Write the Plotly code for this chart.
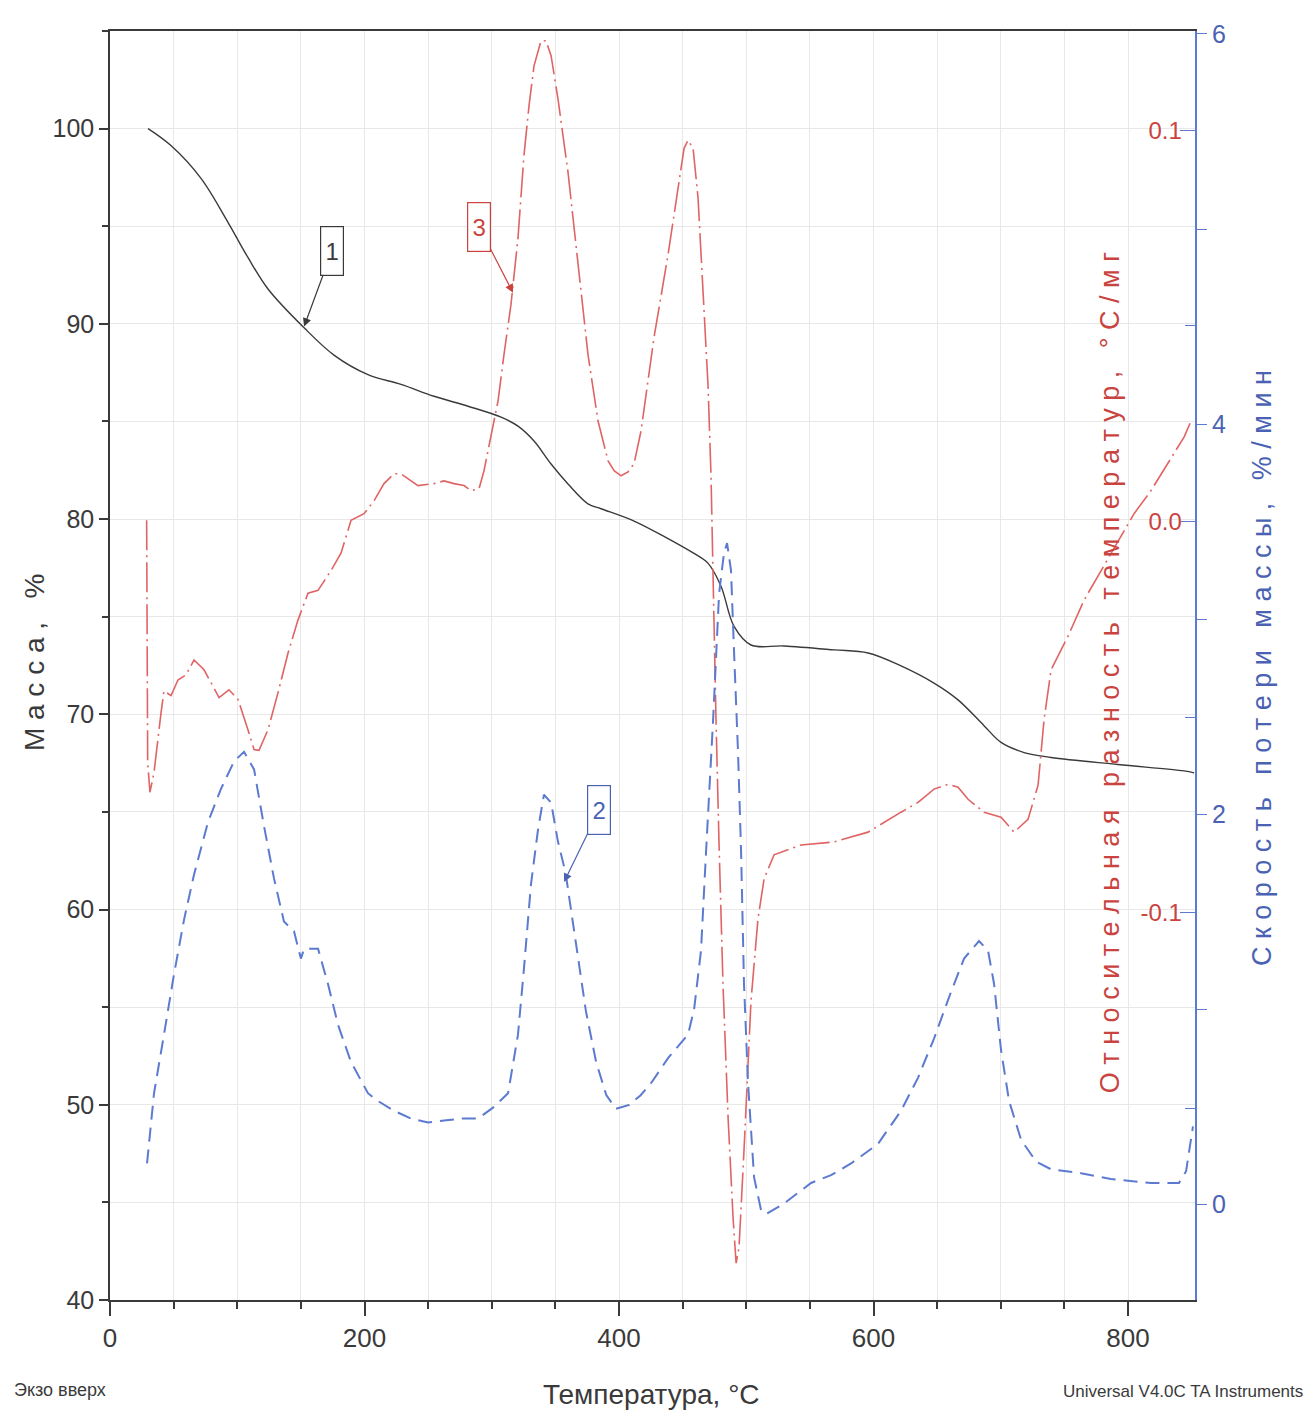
import plotly.graph_objects as go

# ---------------------------------------------------------------------
# Данные, снятые с термограммы (ТГ / ДТГ / ДТА)
# ---------------------------------------------------------------------
temp_mass = [29.9, 47.9, 71.5, 92.7, 108.4, 124.0, 152.5, 176.0, 202.7, 228.7,
             254.6, 281.3, 307.3, 320.6, 333.2, 346.6, 359.9, 375.6, 385.9, 411.8,
             438.5, 458.9, 470.0, 480.2, 490.4, 503.7, 529.7, 569.0, 595.7, 621.6,
             647.5, 666.4, 686.8, 700.2, 718.3, 739.5, 792.0, 844.0, 851.9]
mass = [100.0, 99.13, 97.45, 95.2, 93.4, 91.8, 89.8, 88.4, 87.4, 86.9,
        86.29, 85.78, 85.22, 84.76, 84.0, 82.82, 81.8, 80.78, 80.53, 79.9,
        79.0, 78.24, 77.73, 76.55, 74.5, 73.55, 73.5, 73.3, 73.14, 72.48,
        71.6, 70.74, 69.42, 68.56, 68.04, 67.79, 67.43, 67.1, 67.0]

temp_rate = [29.1, 34.6, 42.4, 50.3, 58.2, 66.0, 77.0, 87.2, 97.4, 105.3,
             113.2, 121.0, 128.9, 136.7, 144.6, 150.0, 152.5, 163.5, 171.3, 179.2,
             189.4, 202.7, 210.6, 223.2, 236.5, 249.9, 262.5, 275.8, 289.2, 301.8,
             312.8, 320.6, 325.3, 330.8, 336.3, 341.0, 346.6, 352.0, 358.0, 366.0,
             374.0, 382.0, 390.0, 397.6, 408.0, 417.0, 425.0, 438.5, 454.2, 459.0,
             464.4, 468.4, 473.9, 478.6, 482.5, 484.9, 488.0, 490.4, 493.5, 495.9,
             498.2, 501.4, 506.1, 511.6, 515.5, 529.7, 550.9, 566.6, 582.3, 603.5,
             621.6, 635.0, 647.5, 660.9, 671.1, 682.9, 690.0, 694.7, 700.2, 706.5,
             716.0, 727.7, 739.5, 763.0, 786.6, 818.0, 840.0, 845.6, 851.0]
rate = [0.21, 0.57, 0.87, 1.18, 1.46, 1.69, 1.96, 2.13, 2.27, 2.32,
        2.23, 1.94, 1.67, 1.45, 1.40, 1.26, 1.31, 1.31, 1.13, 0.92,
        0.73, 0.57, 0.53, 0.48, 0.44, 0.42, 0.43, 0.44, 0.44, 0.50,
        0.57, 0.87, 1.21, 1.64, 1.92, 2.10, 2.06, 1.86, 1.70, 1.35,
        0.99, 0.73, 0.56, 0.49, 0.51, 0.56, 0.62, 0.75, 0.87, 1.00,
        1.30, 1.81, 2.48, 3.13, 3.34, 3.39, 3.25, 2.83, 2.32, 1.81,
        1.13, 0.62, 0.14, -0.03, -0.05, 0.005, 0.11, 0.15, 0.21, 0.31,
        0.48, 0.65, 0.85, 1.09, 1.26, 1.35, 1.30, 1.13, 0.79, 0.53,
        0.33, 0.22, 0.18, 0.16, 0.13, 0.11, 0.11, 0.17, 0.40]

temp_dta = [28.8, 29.6, 31.4, 34.6, 40.1, 42.4, 48.0, 53.4, 59.7, 66.0,
            73.9, 79.4, 85.7, 93.5, 100.6, 108.4, 113.2, 117.1, 124.2, 132.0,
            139.9, 147.7, 155.6, 163.5, 173.7, 181.5, 189.4, 199.6, 207.5, 215.3,
            223.2, 228.7, 242.0, 254.6, 262.5, 270.3, 278.2, 283.7, 290.0, 293.9,
            299.4, 304.9, 309.6, 315.1, 320.6, 325.3, 329.3, 333.2, 338.7, 342.6,
            346.6, 352.0, 359.9, 367.8, 375.6, 383.5, 391.4, 396.1, 401.6, 407.1,
            411.8, 417.3, 427.5, 438.5, 446.4, 451.1, 454.2, 458.2, 462.1, 466.0,
            470.0, 472.3, 473.9, 476.2, 478.6, 481.7, 485.7, 489.6, 492.0, 494.3,
            498.2, 503.7, 509.2, 514.0, 521.8, 543.0, 569.0, 595.7, 621.6, 635.0,
            647.5, 658.5, 666.4, 674.3, 686.8, 700.2, 710.4, 721.4, 729.3, 734.0,
            739.5, 752.8, 765.4, 778.8, 792.1, 804.7, 818.0, 831.4, 844.0, 849.5]
dta = [0.0003, -0.0616, -0.0692, -0.0641, -0.0489, -0.0433, -0.0445, -0.0405, -0.0392, -0.0354,
       -0.0379, -0.0412, -0.0450, -0.0430, -0.0455, -0.0532, -0.0583, -0.0585, -0.0532, -0.0438,
       -0.0336, -0.0252, -0.0183, -0.0176, -0.0125, -0.0081, 0.0003, 0.0020, 0.0053, 0.0097,
       0.0122, 0.0122, 0.0092, 0.0097, 0.0104, 0.0097, 0.0092, 0.0079, 0.0084, 0.0130,
       0.0216, 0.0308, 0.0427, 0.0555, 0.0725, 0.0936, 0.1064, 0.1165, 0.1229, 0.1229,
       0.1191, 0.1081, 0.0893, 0.0656, 0.0427, 0.0257, 0.0155, 0.0130, 0.0117, 0.0127,
       0.0148, 0.0232, 0.0471, 0.0682, 0.0852, 0.0954, 0.0975, 0.0954, 0.0827, 0.0598,
       0.0344, 0.0115, -0.0165, -0.0506, -0.0827, -0.1183, -0.1524, -0.1779, -0.1896, -0.1855,
       -0.1608, -0.1226, -0.1015, -0.0913, -0.0852, -0.0827, -0.0819, -0.0794, -0.0743, -0.0718,
       -0.0684, -0.0672, -0.0679, -0.0710, -0.0743, -0.0756, -0.0794, -0.0761, -0.0674, -0.0506,
       -0.0379, -0.0293, -0.0201, -0.0125, -0.0048, 0.0020, 0.0079, 0.0148, 0.0216, 0.0257]

x_ticks = [0, 200, 400, 600, 800]
mass_ticks = [40, 50, 60, 70, 80, 90, 100]
dta_ticks = [-0.1, 0.0, 0.1]
dta_tick_text = ["-0.1", "0.0", "0.1"]
rate_ticks = [0, 2, 4, 6]

# ---------------------------------------------------------------------
# Оформление
# ---------------------------------------------------------------------
_NARROW = "Liberation Sans Narrow, Arial Narrow, Liberation Sans, sans-serif"
_SANS = "Liberation Sans, Arial, sans-serif"
_INK = "#3a3a3a"
_RED = "#e06464"
_RED_TXT = "#c9443f"
_BLUE = "#5c7ad0"
_BLUE_TXT = "#4a62b4"
_GRID = "#e8e8e8"

fig = go.Figure()

fig.add_trace(go.Scatter(
    x=temp_mass, y=mass, mode="lines", yaxis="y",
    line=dict(color=_INK, width=1.4), line_shape="spline", name="ТГ",
))
fig.add_trace(go.Scatter(
    x=temp_rate, y=rate, mode="lines", yaxis="y3",
    line=dict(color=_BLUE, width=2.0, dash="14px,8px"), name="ДТГ",
))
fig.add_trace(go.Scatter(
    x=temp_dta, y=dta, mode="lines", yaxis="y2",
    line=dict(color=_RED, width=1.6, dash="30px,5px,2px,5px"), name="ДТА",
))

# страница рисуется со сдвигом 8px (отступ body), поэтому l/t уменьшены на 8
fig.update_layout(
    width=1312, height=1423,
    paper_bgcolor="white", plot_bgcolor="white",
    showlegend=False,
    margin=dict(l=102, r=125, t=17, b=131),
    font=dict(family=_NARROW, color=_INK),
    xaxis=dict(
        range=[0, 852.6], tickvals=x_ticks,
        tickfont=dict(family=_NARROW, size=26, color=_INK),
        ticks="outside", ticklen=14, tickcolor=_INK, tickwidth=1.5,
        showline=True, linecolor=_INK, linewidth=1.5, mirror=True,
        showgrid=True, gridcolor=_GRID, gridwidth=1,
        minor=dict(dtick=50, ticks="outside", ticklen=7, tickcolor=_INK,
                   showgrid=True, gridcolor=_GRID),
        zeroline=False,
    ),
    yaxis=dict(
        range=[40, 105], tickvals=mass_ticks,
        tickfont=dict(family=_NARROW, size=25, color=_INK),
        ticks="outside", ticklen=9, tickcolor=_INK, tickwidth=1.5,
        showline=True, linecolor=_INK, linewidth=1.5,
        showgrid=True, gridcolor=_GRID, gridwidth=1,
        minor=dict(dtick=5, ticks="outside", ticklen=6, tickcolor=_INK,
                   showgrid=True, gridcolor=_GRID),
        zeroline=False,
    ),
    yaxis2=dict(
        range=[-0.199, 0.1254], overlaying="y", side="right", anchor="x",
        tickvals=dta_ticks, ticktext=dta_tick_text,
        ticklabelposition="inside",
        tickfont=dict(family=_NARROW, size=24, color=_RED_TXT),
        ticks="inside", ticklen=15, tickcolor=_BLUE, tickwidth=1.2,
        minor=dict(dtick=0.05, ticks="inside", ticklen=10, tickcolor=_BLUE),
        showgrid=False, showline=False, zeroline=False,
    ),
    yaxis3=dict(
        range=[-0.49, 6.015], overlaying="y", side="right", anchor="x",
        tickvals=rate_ticks,
        tickfont=dict(family=_NARROW, size=25, color=_BLUE_TXT),
        ticks="outside", ticklen=10, tickcolor=_BLUE, tickwidth=1.2,
        minor=dict(dtick=1, ticks="outside", ticklen=10, tickcolor=_BLUE),
        showline=True, linecolor=_BLUE, linewidth=2,
        showgrid=False, zeroline=False,
    ),
)

# Подписи осей (разреженные, как в оригинале)
fig.add_annotation(
    text="М а с с а ,   %", xref="paper", yref="paper", x=-0.069, y=0.502,
    xanchor="center", yanchor="middle",
    textangle=-90, showarrow=False, font=dict(family=_SANS, size=28, color=_INK),
)
fig.add_annotation(
    text="О т н о с и т е л ь н а я   р а з н о с т ь   т е м п е р а т у р ,   ° С / м г",
    xref="paper", yref="paper", x=0.9217, y=0.494, xanchor="center", yanchor="middle",
    textangle=-90, showarrow=False, font=dict(family=_SANS, size=27, color=_RED_TXT),
)
fig.add_annotation(
    text="С к о р о с т ь   п о т е р и   м а с с ы ,   % / м и н",
    xref="paper", yref="paper", x=1.0618, y=0.498, xanchor="center", yanchor="middle",
    textangle=-90, showarrow=False, font=dict(family=_SANS, size=27, color=_BLUE_TXT),
)
fig.add_annotation(
    text="Температура, °C", xref="paper", yref="paper", x=0.499, y=-0.0745,
    xanchor="center", yanchor="middle",
    showarrow=False, font=dict(family=_NARROW, size=28, color=_INK),
)
fig.add_annotation(
    text="Экзо вверх", xref="paper", yref="paper", x=-0.0903, y=-0.0706,
    xanchor="left", yanchor="middle", showarrow=False,
    font=dict(family=_NARROW, size=18, color=_INK),
)
fig.add_annotation(
    text="Universal V4.0C TA Instruments", xref="paper", yref="paper",
    x=1.101, y=-0.072, xanchor="right", yanchor="middle", showarrow=False,
    font=dict(family=_NARROW, size=17, color=_INK),
)

# Выноски с номерами кривых
for num, tx, ty, yref, ax, ay, col in [
    ("1", 152.5, 89.86, "y", 28, -76, _INK),
    ("3", 316.7, 0.0585, "y2", -34, -66, _RED_TXT),
    ("2", 356.8, 1.653, "y3", 35, -72, _BLUE_TXT),
]:
    fig.add_annotation(
        text=num, x=tx, y=ty, xref="x", yref=yref, ax=ax, ay=ay,
        showarrow=True, arrowhead=2, arrowsize=1.4, arrowwidth=1.2, arrowcolor=col,
        font=dict(family=_NARROW, size=24, color=col),
        bordercolor=col, borderwidth=1.2, borderpad=2,
        width=18, height=44, bgcolor="white",
    )

fig.write_html("out.html")
